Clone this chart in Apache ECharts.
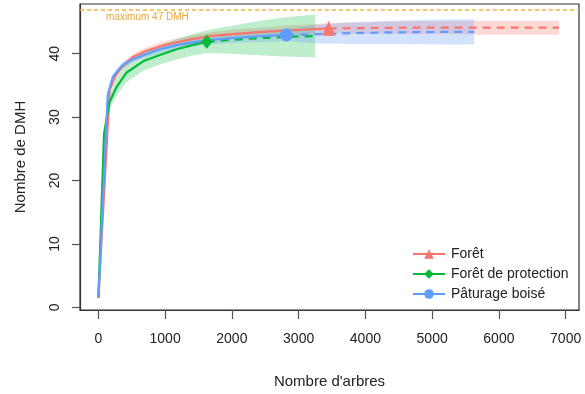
<!DOCTYPE html>
<html>
<head>
<meta charset="utf-8">
<script src="https://cdn.jsdelivr.net/npm/echarts@6/dist/echarts.min.js"></script>
<style>html,body{margin:0;padding:0;background:#fff}#c{width:585px;height:394px}</style>
</head>
<body>
<div id="c"></div>
<script>
// ---- Data ----
const groups = ['Forêt', 'Forêt de protection', 'Pâturage boisé'];

// Forêt
const foretN  = [1, 170, 260, 350, 520, 700, 1000, 1400, 1700, 2000, 2400, 2900, 3450, 4000, 4600, 5200, 5800, 6400, 6900];
const foretS  = [1.5, 34.3, 36.6, 37.9, 39.5, 40.4, 41.4, 42.3, 42.8, 43.1, 43.4, 43.7, 44.0, 44.05, 44.1, 44.1, 44.1, 44.1, 44.1];
const foretLo = [1.5, 33.8, 36.1, 37.4, 39.0, 39.9, 40.8, 41.7, 42.2, 42.4, 42.7, 42.9, 43.2, 43.15, 43.1, 43.1, 43.0, 43.0, 43.0];
const foretHi = [1.5, 34.8, 37.1, 38.4, 40.0, 40.9, 42.0, 42.9, 43.4, 43.8, 44.1, 44.5, 44.8, 44.95, 45.1, 45.1, 45.2, 45.2, 45.2];
const foretObs = 12;

// Forêt de protection
const protN  = [1, 85, 165, 265, 420, 670, 920, 1170, 1420, 1625, 2000, 2400, 2800, 3250];
const protS  = [1.5, 27.3, 32.3, 34.6, 37.0, 38.8, 39.8, 40.7, 41.4, 41.9, 42.2, 42.45, 42.65, 42.8];
const protLo = [1.5, 26.5, 31.1, 33.2, 35.5, 37.3, 38.3, 39.1, 39.7, 40.1, 40.0, 39.75, 39.55, 39.4];
const protHi = [1.5, 28.1, 33.5, 36.0, 38.5, 40.3, 41.3, 42.3, 43.1, 43.7, 44.4, 45.15, 45.75, 46.2];
const protObs = 9;

// Pâturage boisé
const patN  = [1, 140, 215, 290, 365, 510, 660, 920, 1200, 1420, 1700, 1930, 2200, 2420, 2815, 3300, 3800, 4300, 4800, 5300, 5630];
const patS  = [1.5, 33.5, 36.3, 37.3, 38.2, 39.1, 39.7, 40.7, 41.4, 41.8, 42.2, 42.4, 42.6, 42.75, 42.95, 43.1, 43.25, 43.35, 43.4, 43.45, 43.45];
const patLo = [1.5, 33.0, 35.8, 36.8, 37.7, 38.6, 39.2, 40.1, 40.8, 41.1, 41.5, 41.6, 41.8, 41.85, 41.95, 41.6, 41.55, 41.55, 41.5, 41.45, 41.45];
const patHi = [1.5, 34.0, 36.8, 37.8, 38.7, 39.6, 40.2, 41.3, 42.0, 42.5, 42.9, 43.2, 43.4, 43.65, 43.95, 44.6, 44.95, 45.15, 45.3, 45.45, 45.45];
const patObs = 14;

const maxDMH = 47;
const xTicks = [0, 1000, 2000, 3000, 4000, 5000, 6000, 7000];
const yTicks = [0, 10, 20, 30, 40];

// ---- Styles ----
const colors = ['#F8766D', '#00BA38', '#619CFF'];
const bandColors = ['rgba(248,118,109,0.28)', 'rgba(0,186,56,0.25)', 'rgba(97,156,255,0.28)'];
const symbols = ['triangle', 'diamond', 'circle'];
const symSizes = [[13, 15], [11, 14], 13];

const sets = [
  {n: foretN, s: foretS, lo: foretLo, hi: foretHi, obs: foretObs},
  {n: protN, s: protS, lo: protLo, hi: protHi, obs: protObs},
  {n: patN, s: patS, lo: patLo, hi: patHi, obs: patObs}
];

const series = [];
sets.forEach((d, i) => {
  series.push({
    type: 'custom', name: 'band' + i, silent: true, z: 1,
    encode: {x: 0, y: [1, 2]},
    data: d.n.map((x, k) => [x, d.lo[k], d.hi[k]]),
    renderItem: function (params, api) {
      if (params.dataIndex !== 0) return null;
      const pts = [];
      for (let k = 0; k < d.n.length; k++) pts.push(api.coord([d.n[k], d.hi[k]]));
      for (let k = d.n.length - 1; k >= 0; k--) pts.push(api.coord([d.n[k], d.lo[k]]));
      return {type: 'polygon', shape: {points: pts}, style: {fill: bandColors[i], stroke: null}};
    }
  });
});
sets.forEach((d, i) => {
  const interp = d.n.slice(0, d.obs + 1).map((x, k) => [x, d.s[k]]);
  const extrap = d.n.slice(d.obs).map((x, k) => [x, d.s[k + d.obs]]);
  const s1 = {
    type: 'line', name: groups[i], symbol: symbols[i], showSymbol: false,
    color: colors[i], lineStyle: {width: 2.2, color: colors[i]},
    itemStyle: {color: colors[i]}, data: interp, z: 3
  };
  if (i === 0) {
    s1.markLine = {
      silent: true, symbol: 'none',
      lineStyle: {color: '#F2B33D', type: [4, 3], width: 1.5},
      label: {show: true, position: 'insideStartBottom', formatter: 'maximum 47 DMH',
              color: '#E9A43A', fontSize: 10, fontFamily: 'Liberation Sans', distance: [26, 3]},
      data: [{yAxis: maxDMH}]
    };
  }
  series.push(s1);
  series.push({
    type: 'line', name: groups[i] + ' ', symbol: 'none', color: colors[i],
    lineStyle: {width: 2.2, color: colors[i], type: [8, 6]}, data: extrap, z: 3
  });
  series.push({
    type: 'scatter', name: groups[i] + '  ', symbol: symbols[i], symbolSize: symSizes[i],
    itemStyle: {color: colors[i], opacity: 1}, data: [[d.n[d.obs], d.s[d.obs]]], z: 4
  });
});

const font = 'Liberation Sans, Arial, sans-serif';
const chart = echarts.init(document.getElementById('c'), null, {renderer: 'canvas'});
chart.setOption({
  animation: false,
  backgroundColor: '#fff',
  grid: {left: 80, right: 6, top: 4, bottom: 82, show: true, borderColor: '#333', borderWidth: 1.2, backgroundColor: 'transparent'},
  xAxis: {
    type: 'value', min: -275, max: 7200,
    name: "Nombre d'arbres", nameLocation: 'middle', nameGap: 64,
    nameTextStyle: {fontSize: 15, color: '#222', fontFamily: font},
    axisLine: {show: true, onZero: false, lineStyle: {color: '#333', width: 1.2}},
    axisTick: {show: true, length: 9, customValues: xTicks, lineStyle: {color: '#555', width: 1.2}},
    axisLabel: {customValues: xTicks, margin: 22, fontSize: 14, color: '#222', fontFamily: font,
                formatter: v => String(v)},
    splitLine: {show: false}
  },
  yAxis: {
    type: 'value', min: -0.42, max: 47.84,
    name: 'Nombre de DMH', nameLocation: 'middle', nameGap: 52,
    nameTextStyle: {fontSize: 15, color: '#222', fontFamily: font},
    axisLine: {show: true, onZero: false, lineStyle: {color: '#333', width: 1.2}},
    axisTick: {show: true, length: 8, customValues: yTicks, lineStyle: {color: '#555', width: 1.2}},
    axisLabel: {customValues: yTicks, rotate: 90, margin: 18, fontSize: 14, color: '#222', fontFamily: font,
                formatter: v => String(v)},
    splitLine: {show: false}
  },
  legend: {
    data: groups, orient: 'vertical', left: 407, top: 242,
    itemWidth: 32, itemHeight: 12, itemGap: 6,
    textStyle: {fontSize: 14, color: '#222', fontFamily: font, padding: [0, 0, 0, 1]}
  },
  series: series
});
</script>
</body>
</html>
